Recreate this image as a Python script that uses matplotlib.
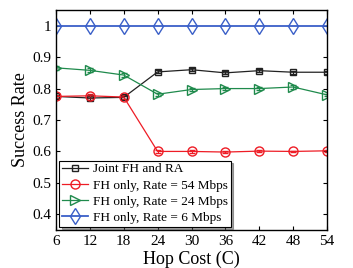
import matplotlib
matplotlib.use("Agg")
import matplotlib.pyplot as plt
from matplotlib.ticker import FuncFormatter

plt.rcParams['font.family'] = ['Liberation Serif', 'DejaVu Serif']

hop_cost = [6, 12, 18, 24, 30, 36, 42, 48, 54]
joint = [0.775, 0.770, 0.772, 0.853, 0.860, 0.850, 0.857, 0.852, 0.852]
joint_err = [0.006, 0.005, 0.005, 0.005, 0.005, 0.005, 0.005, 0.005, 0.005]
fh_54 = [0.775, 0.777, 0.773, 0.600, 0.600, 0.598, 0.601, 0.600, 0.602]
fh_54_err = [0.006, 0.006, 0.005, 0.004, 0.006, 0.003, 0.002, 0.002, 0.003]
fh_24 = [0.866, 0.858, 0.843, 0.782, 0.797, 0.800, 0.800, 0.805, 0.780]
fh_24_err = [0.006, 0.006, 0.006, 0.005, 0.006, 0.005, 0.005, 0.006, 0.004]
fh_6 = [1.0, 1.0, 1.0, 1.0, 1.0, 1.0, 1.0, 1.0, 1.0]

fig = plt.figure(figsize=(3.53, 2.68), dpi=100)
ax = fig.add_axes([56 / 353, 1 - 230 / 268, 271 / 353, 220 / 268])

h6, = ax.plot(hop_cost, fh_6, color='#3a5fc8', marker='d', mfc='none', ms=8, lw=1.3,
              label='FH only, Rate = 6 Mbps')
hj = ax.errorbar(hop_cost, joint, yerr=joint_err, color='#222222', marker='s', mfc='none',
                 ms=5, lw=0.9, capsize=2, elinewidth=0.8, label='Joint FH and RA')
h54 = ax.errorbar(hop_cost, fh_54, yerr=fh_54_err, color='#ee1c25', marker='o', mfc='none',
                  ms=6.5, lw=0.9, capsize=2, elinewidth=0.8, label='FH only, Rate = 54 Mbps')
h24 = ax.errorbar(hop_cost, fh_24, yerr=fh_24_err, color='#1f8a4c', marker='>', mfc='none',
                  ms=7, lw=0.9, capsize=2, elinewidth=0.8, label='FH only, Rate = 24 Mbps')

ax.set_xlim(6, 54)
ax.set_ylim(0.35, 1.05)
ax.set_xticks(hop_cost)
ax.set_yticks([0.4, 0.5, 0.6, 0.7, 0.8, 0.9, 1.0])
ax.yaxis.set_major_formatter(FuncFormatter(lambda v, p: '1' if abs(v - 1) < 1e-9 else '%.1f' % v))
ax.tick_params(direction='in', top=True, right=True, labelsize=11, length=3, width=0.8)
for s in ax.spines.values():
    s.set_linewidth(1.0)

ax.set_xlabel('Hop Cost (C)', fontsize=13, labelpad=2)
ax.set_ylabel('Success Rate', fontsize=13, labelpad=2)

leg = ax.legend([hj[0], h54[0], h24[0], h6],
                ['Joint FH and RA', 'FH only, Rate = 54 Mbps',
                 'FH only, Rate = 24 Mbps', 'FH only, Rate = 6 Mbps'],
                loc='lower left', fontsize=9.5, frameon=True, fancybox=False, shadow=True,
                borderpad=0.2, labelspacing=0.3, handlelength=2.0, handletextpad=0.35,
                borderaxespad=0.25)
leg.get_frame().set_edgecolor('black')
leg.get_frame().set_linewidth(0.8)

plt.savefig("out.png", dpi=100)
